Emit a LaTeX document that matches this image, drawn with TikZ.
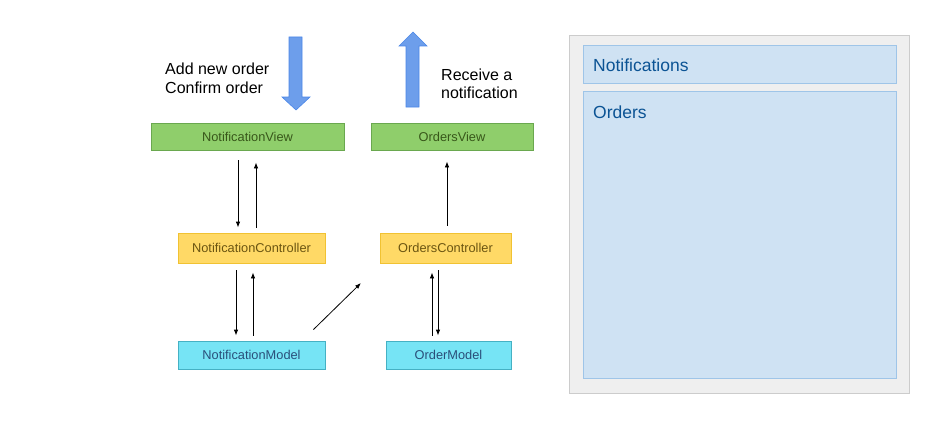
\documentclass[tikz,border=0pt]{standalone}
\usepackage{fontspec}
\setmainfont{Liberation Sans}
\usetikzlibrary{arrows.meta}

\definecolor{viewfill}{HTML}{8FCE6B}
\definecolor{viewline}{HTML}{6AA84F}
\definecolor{viewtext}{HTML}{38571A}
\definecolor{ctrlfill}{HTML}{FFD966}
\definecolor{ctrlline}{HTML}{F1C232}
\definecolor{ctrltext}{HTML}{6B5511}
\definecolor{modelfill}{HTML}{76E4F5}
\definecolor{modelline}{HTML}{45B1C4}
\definecolor{modeltext}{HTML}{2A4F7A}
\definecolor{bigarrow}{HTML}{6D9EEB}
\definecolor{bigarrowline}{HTML}{4A86E8}
\definecolor{panelfill}{HTML}{EFEFEF}
\definecolor{panelline}{HTML}{CCCCCC}
\definecolor{regionfill}{HTML}{CFE2F3}
\definecolor{regionline}{HTML}{9FC5E8}
\definecolor{regiontext}{HTML}{0B5394}

\begin{document}
\begin{tikzpicture}[x=1pt, y=-1pt]

% styles
\pgfkeys{/arr/.style={draw, line width=0.8pt, -{Latex[length=6pt, width=4.5pt]}}} % thin arrows
\pgfkeys{/box/.style={draw, line width=0.8pt, inner sep=0, node font=\fontsize{12.8}{15}\selectfont}} % base style for boxes
\pgfkeys{/myview/.style={/box, fill=viewfill, draw=viewline, text=viewtext, minimum height=27pt}} % views
\pgfkeys{/myctrl/.style={/box, fill=ctrlfill, draw=ctrlline, text=ctrltext, minimum height=30pt}} % controllers
\pgfkeys{/mymodel/.style={/box, fill=modelfill, draw=modelline, text=modeltext, minimum height=28pt}} % models
\pgfkeys{/blockarr/.style={fill=bigarrow, draw=bigarrowline, line width=0.6pt}} % big arrows
\pgfkeys{/note/.style={align=left, inner sep=0, node font=\fontsize{16}{18.5}\selectfont}} % free text
\pgfkeys{/region/.style={draw=regionline, fill=regionfill, line width=0.8pt}} % app regions
\pgfkeys{/regionlabel/.style={anchor=base west, inner sep=0, text=regiontext, node font=\fontsize{17.5}{20}\selectfont}}

\useasboundingbox (0,0) rectangle (944,428);

% left column: notifications
\node[/myview, minimum width=193pt] (nview) at (247.5,136.5) {NotificationView};
\node[/myctrl, minimum width=147pt] (nctrl) at (251.5,248) {NotificationController};
\node[/mymodel, minimum width=147pt] (nmodel) at (251.5,355) {NotificationModel};

% right column: orders
\node[/myview, minimum width=162pt] (oview) at (452,136.5) {OrdersView};
\node[/myctrl, minimum width=131pt] (octrl) at (445.5,248) {OrdersController};
\node[/mymodel, minimum width=125pt] (omodel) at (448.5,355) {OrderModel};

% user actions
\draw[/blockarr] (289,37) -- (302,37) -- (302,97) -- (310,97) -- (296,110) -- (282,97) -- (289,97) -- cycle;
\draw[/blockarr] (406,107) -- (419,107) -- (419,46) -- (427,46) -- (413,32) -- (399,46) -- (406,46) -- cycle;
\node[/note, anchor=west] (actions) at (165,78.5) {Add new order\\Confirm order};
\node[/note, anchor=west] (receive) at (441,84) {Receive a\\notification};

% view <-> controller <-> model
\draw[/arr, shorten <=10pt, shorten >=5pt] ([xshift=-9.5pt]nview.south) -- ([xshift=-9.5pt]nview.south |- nctrl.north);
\draw[/arr, shorten <=5pt, shorten >=12pt] ([xshift=4.5pt]nctrl.north) -- ([xshift=4.5pt]nctrl.north |- nview.south);
\draw[/arr, shorten <=7pt, shorten >=5pt] ([xshift=-15.5pt]nctrl.south) -- ([xshift=-15.5pt]nctrl.south |- nmodel.north);
\draw[/arr, shorten <=5pt, shorten >=9pt] ([xshift=1.5pt]nmodel.north) -- ([xshift=1.5pt]nmodel.north |- nctrl.south);
\draw[/arr, shorten <=5pt, shorten >=9pt] ([xshift=-16.5pt]omodel.north) -- ([xshift=-16.5pt]omodel.north |- octrl.south);
\draw[/arr, shorten <=7pt, shorten >=5pt] ([xshift=-7.5pt]octrl.south) -- ([xshift=-7.5pt]octrl.south |- omodel.north);
\draw[/arr, shorten <=7pt, shorten >=11pt] ([xshift=1.5pt]octrl.north) -- ([xshift=1.5pt]octrl.north |- oview.south);

% notification model tells the orders side
\coordinate (toorders) at (361,283);
\draw[/arr] ([xshift=-12pt, yshift=11pt]nmodel.north east) -- (toorders);

% app layout
\draw[fill=panelfill, draw=panelline, line width=0.8pt] (569.5,35) rectangle (909,393);
\draw[/region] (583,45) rectangle (896.5,83);
\draw[/region] (583,91) rectangle (896.5,378);
\node[/regionlabel] (notiflabel) at (593,71) {Notifications};
\node[/regionlabel] (orderslabel) at (593,118) {Orders};

\end{tikzpicture}
\end{document}
